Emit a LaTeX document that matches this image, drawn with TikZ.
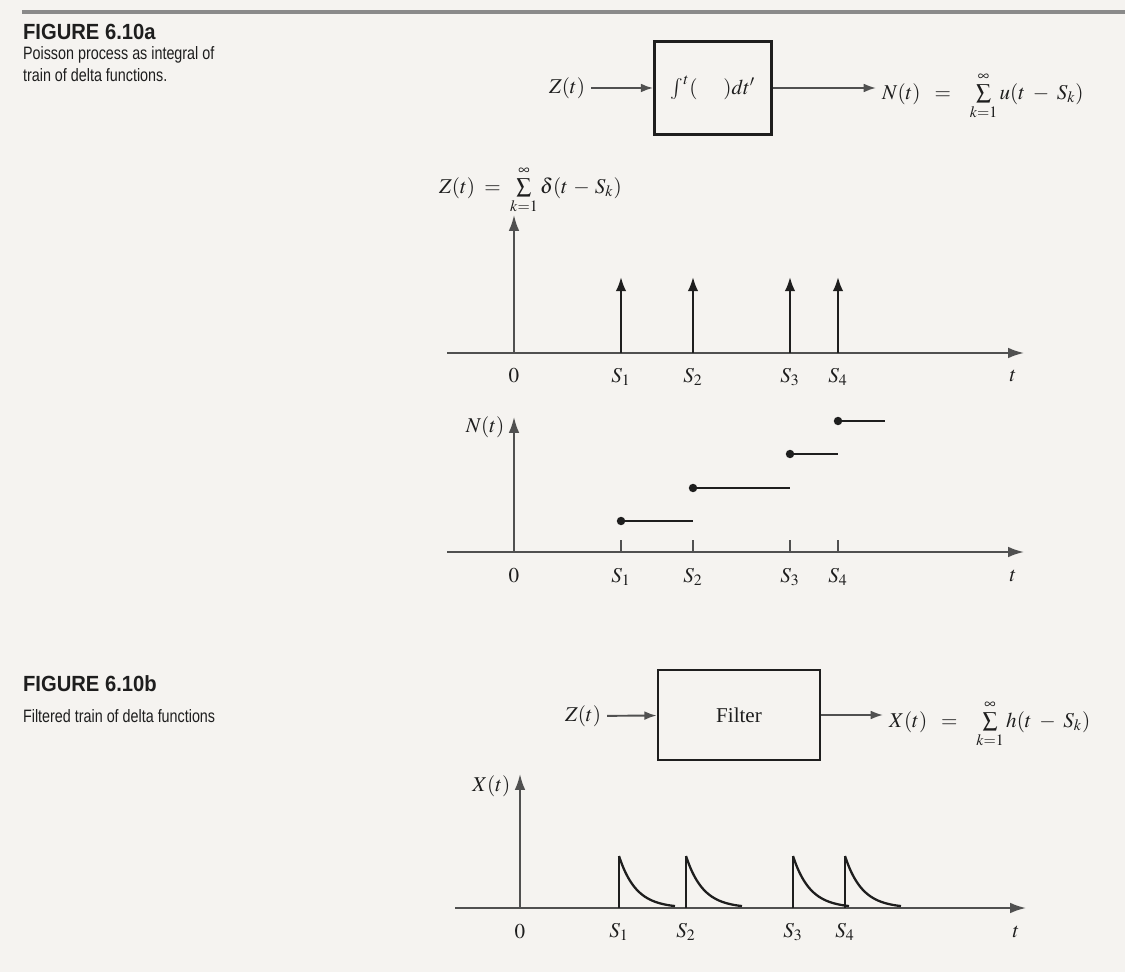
\documentclass[tikz,border=0pt]{standalone}
\usepackage{mathptmx}
\usepackage{fontspec}
\setmainfont{Liberation Serif}
\newfontfamily\capfont[FakeStretch=0.8]{Liberation Sans}
\newfontfamily\headfont[FakeStretch=0.92]{Liberation Sans}
\usetikzlibrary{arrows.meta,positioning}
\definecolor{paper}{HTML}{F5F3F0}
\definecolor{ink}{HTML}{1E1E1E}
\definecolor{axisgray}{HTML}{505050}
\definecolor{rulegray}{HTML}{8A8A8A}

\begin{document}
\begin{tikzpicture}[x=0.02cm, y=-0.02cm, color=ink,
  axisline/.style={draw=axisgray, line width=1.1pt, -{Latex[length=9pt,width=6pt]}},
  sig/.style={line width=1.3pt},
  flow/.style={draw=axisgray, line width=1.1pt, -{Latex[length=7pt,width=5pt]}},
  blk/.style={draw, line width=1.5pt, inner sep=0pt},
  dot/.style={circle, fill, inner sep=1.7pt},
  mlbl/.style={font=\fontsize{12}{14}\selectfont},
  figlbl/.style={anchor=west, inner sep=1pt, font=\headfont\bfseries\fontsize{12.5}{14}\selectfont},
  captext/.style={anchor=west, inner sep=1pt, font=\capfont\fontsize{10.2}{12.4}\selectfont, align=left}]
  \useasboundingbox[fill=paper] (0,0) rectangle (1125,972);
  % page rule
  \coordinate (ruleL) at (22,12);
  \coordinate (ruleR) at (1125,12);
  \draw[rulegray, line width=2pt] (ruleL) -- (ruleR);

  % captions
  \node[figlbl] (figA) at (21,32) {FIGURE 6.10a};
  \node[captext] (capA) at (21,64) {Poisson process as integral of\\train of delta functions.};
  \node[figlbl] (figB) at (21,684) {FIGURE 6.10b};
  \node[captext] (capB) at (21,716) {Filtered train of delta functions};

  % block diagram: integrator
  \node[blk, minimum width=2.34cm, minimum height=1.86cm, mlbl] (intbox) at (713,88) {$\int^{t}(\quad\;)dt'$};
  \node[mlbl] (zinA) at (567,88) {$Z(t)$};
  \node[mlbl, anchor=west] (nout) at (876,96) {$N(t)\;\;=\;\;\;\sum\limits_{k=1}^{\infty} u(t\;-\;S_k)$};
  \draw[flow] (zinA) -- (intbox);
  \draw[flow] (intbox) -- (intbox -| nout.west);

  % impulse train Z(t)
  \node[mlbl, anchor=west] (zlab) at (433,190) {$Z(t)\;=\;\sum\limits_{k=1}^{\infty}\delta(t\,-\,S_k)$};
  \coordinate (zo) at (514,353);
  \coordinate (zL) at (447,353);
  \coordinate (zR) at (1024,353);
  \coordinate (zT) at (514,215);
  \draw[axisline] (zL) -- (zR);
  \draw[axisline] (zo) -- (zT);
  \node[mlbl] (z0) at (514,376) {$0$};
  \node[mlbl] (zt) at (1013,376) {$t$};
  \foreach \s [count=\i] in {621,693,790,838} {
    \coordinate (zb\i) at (\s,353);
    \coordinate (zh\i) at (\s,277);
    \draw[sig, -{Latex[length=8pt,width=6pt]}] (zb\i) -- (zh\i);
    \node[mlbl] (zs\i) at (\s,377) {$S_{\i}$};
  }

  % counting process N(t)
  \coordinate (no) at (514,552);
  \coordinate (nL) at (447,552);
  \coordinate (nR) at (1024,552);
  \coordinate (nT) at (514,417);
  \draw[axisline] (nL) -- (nR);
  \draw[axisline] (no) -- (nT);
  \node[mlbl, left=2pt of nT, yshift=-6pt] (nlab) {$N(t)$};
  \node[mlbl] (n0) at (514,576) {$0$};
  \node[mlbl] (nt) at (1013,576) {$t$};
  \foreach \s/\e/\lv [count=\i] in {621/693/521, 693/790/488, 790/838/454, 838/885/421} {
    \coordinate (nb\i) at (\s,552);
    \coordinate (nk\i) at (\s,540);
    \draw[axisgray, line width=1pt] (nb\i) -- (nk\i);
    \node[dot] (nd\i) at (\s,\lv) {};
    \coordinate (ne\i) at (\e,\lv);
    \draw[sig] (nd\i.center) -- (ne\i);
    \node[mlbl] (ns\i) at (\s,577) {$S_{\i}$};
  }

  % block diagram: filter
  \node[blk, minimum width=3.24cm, minimum height=1.8cm, mlbl] (filt) at (739,715) {Filter};
  \node[mlbl] (zinB) at (583,716) {$Z(t)$};
  \node[mlbl, anchor=west] (xout) at (883,724) {$X(t)\;\;=\;\;\;\sum\limits_{k=1}^{\infty} h(t\;-\;S_k)$};
  \draw[flow] (zinB) -- (filt);
  \draw[flow] (filt) -- (filt -| xout.west);

  % filtered output X(t)
  \coordinate (xo) at (520,908);
  \coordinate (xL) at (455,908);
  \coordinate (xR) at (1026,908);
  \coordinate (xT) at (520,774);
  \draw[axisline] (xL) -- (xR);
  \draw[axisline] (xo) -- (xT);
  \node[mlbl, left=2pt of xT, yshift=-7pt] (xlab) {$X(t)$};
  \node[mlbl] (x0) at (520,932) {$0$};
  \node[mlbl] (xt) at (1016,932) {$t$};
  \foreach \s [count=\i] in {619,686,793,845} {
    \coordinate (xb\i) at (\s,908);
    \coordinate (xh\i) at (\s,856);
    \draw[sig] (xb\i) -- (xh\i);
    \draw[sig] plot[domain=0:56, samples=30, smooth] ({\s+\x}, {908-52*exp(-\x/17)});
    \node[mlbl] (xs\i) at (\s,932) {$S_{\i}$};
  }
\end{tikzpicture}
\end{document}
